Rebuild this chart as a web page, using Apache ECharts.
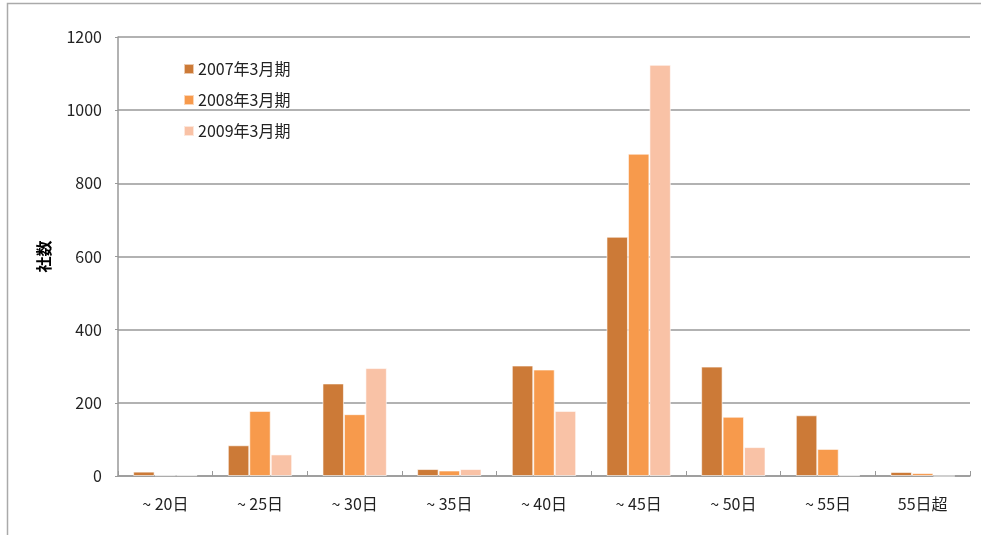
<!DOCTYPE html>
<html>
<head>
<meta charset="utf-8">
<script src="https://cdn.jsdelivr.net/npm/echarts@6/dist/echarts.min.js"></script>
<style>
  html, body { margin: 0; padding: 0; background: #fff; }
  #chart { width: 981px; height: 535px; }
</style>
</head>
<body>
<div id="chart"></div>
<script>
// 売上債権回転日数の分布（社数）
const categories = ['~ 20日', '~ 25日', '~ 30日', '~ 35日', '~ 40日', '~ 45日', '~ 50日', '~ 55日', '55日超'];
const seriesNames = ['2007年3月期', '2008年3月期', '2009年3月期'];
const values2007 = [12, 84, 253, 19, 302, 654, 299, 166, 11];
const values2008 = [2, 178, 169, 15, 291, 881, 162, 74, 8];
const values2009 = [2, 59, 295, 19, 178, 1124, 79, 2, 0];
const yTicks = [0, 200, 400, 600, 800, 1000, 1200];
const colors = ['#CC7A37', '#F79A4C', '#F9C2A6'];

const font = '"Noto Sans CJK JP", "Noto Sans", sans-serif';
const chart = echarts.init(document.getElementById('chart'), null, { renderer: 'canvas' });

const seriesData = [values2007, values2008, values2009];

chart.setOption({
  animation: false,
  textStyle: { fontFamily: font },
  graphic: [{
    type: 'rect',
    shape: { x: 7.5, y: 3.5, width: 1000, height: 600 },
    style: { fill: 'none', stroke: '#aaaaaa', lineWidth: 1.5 },
    silent: true
  }],
  grid: { left: 118, right: 11, top: 37, bottom: 59, containLabel: false },
  legend: {
    orient: 'vertical',
    left: 178,
    top: 56,
    itemGap: 15,
    itemWidth: 10,
    itemHeight: 10,
    icon: 'rect',
    data: seriesNames,
    textStyle: { fontFamily: font, fontSize: 16, color: '#222', padding: [0, 0, 0, -1] }
  },
  xAxis: {
    type: 'category',
    data: categories,
    axisLine: { lineStyle: { color: '#999999', width: 1.5 } },
    axisTick: { show: true, inside: true, length: 5, lineStyle: { color: '#999999' } },
    axisLabel: { fontFamily: font, fontSize: 16, color: '#222', margin: 20 }
  },
  yAxis: {
    type: 'value',
    min: yTicks[0],
    max: yTicks[yTicks.length - 1],
    interval: yTicks[1] - yTicks[0],
    name: '社数',
    nameLocation: 'middle',
    nameGap: 66,
    nameRotate: 90,
    nameTextStyle: { fontFamily: font, fontSize: 16, fontWeight: 'bold', color: '#000' },
    axisLine: { show: true, lineStyle: { color: '#999999', width: 1.5 } },
    axisTick: { show: true, length: 3, lineStyle: { color: '#999999' } },
    axisLabel: {
      fontFamily: font, fontSize: 16, color: '#222', margin: 16,
      formatter: v => String(v)
    },
    splitLine: { lineStyle: { color: '#999999', width: 1.5 } }
  },
  series: seriesNames.map((name, i) => ({
    name: name,
    type: 'bar',
    data: seriesData[i],
    barGap: '0%',
    barCategoryGap: '32%',
    itemStyle: { color: colors[i], borderColor: 'rgba(255,255,255,0.6)', borderWidth: 1 }
  }))
});
</script>
</body>
</html>
